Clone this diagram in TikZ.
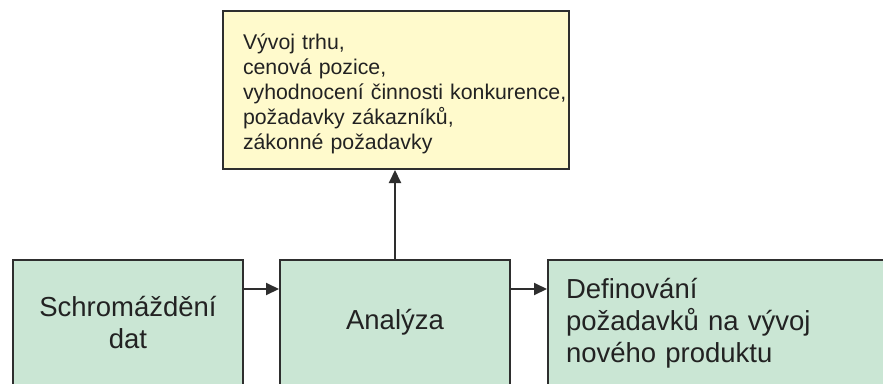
\documentclass[tikz,border=0pt]{standalone}
\usepackage{fontspec}
\setmainfont{Liberation Sans}
\usetikzlibrary{arrows.meta}
\definecolor{boxgreen}{HTML}{CAE6D4}
\definecolor{boxyellow}{HTML}{FFFACC}
\definecolor{edgegray}{HTML}{2E2E2E}
\definecolor{textgray}{HTML}{222222}
\begin{document}
\begin{tikzpicture}[
  x=1pt, y=-1pt,
  stepbox/.style={draw=edgegray, line width=2pt, fill=boxgreen, text=textgray,
    anchor=north west, inner xsep=0pt, inner ysep=0pt, text width=230pt,
    align=center, font=\fontsize{27.5}{32}\selectfont},
  infobox/.style={draw=edgegray, line width=2pt, fill=boxyellow, text=textgray,
    anchor=north west, inner xsep=0pt, inner ysep=0pt, text width=346pt,
    align=left, font=\fontsize{21.3}{25}\selectfont},
  flow/.style={draw=edgegray, line width=2pt, -{Triangle[length=13pt,width=12pt]}}
]
\clip (0,0) rectangle (883,383);
\fill[white] (0,0) rectangle (883,383);
% process boxes (bottom edges run off the page)
\node[stepbox, text height=56pt, text depth=150pt] (gather) at (12,259) {Schromáždění\\dat};
\node[stepbox, text height=69pt, text depth=130pt] (analysis) at (279,259) {Analýza};
\node[stepbox, text height=38pt, text depth=150pt, inner xsep=18pt, text width=330pt, align=left] (define) at (547,259)
  {Definování\\požadavků na vývoj\\nového produktu};
% what the analysis covers
\node[infobox, text height=38pt, text depth=120pt] (inputs) at (222,10)
  {\leftskip=20pt Vývoj trhu,\\cenová pozice,\\vyhodnocení činnosti konkurence,\\požadavky zákazníků,\\zákonné požadavky\par};
\draw[flow] ([yshift=-30pt]gather.north east) -- ([yshift=-30pt]analysis.north west);
\draw[flow] ([yshift=-30pt]analysis.north east) -- ([yshift=-30pt]define.north west);
\draw[flow] (analysis.north) -- (analysis.north |- inputs.south);
\end{tikzpicture}
\end{document}
